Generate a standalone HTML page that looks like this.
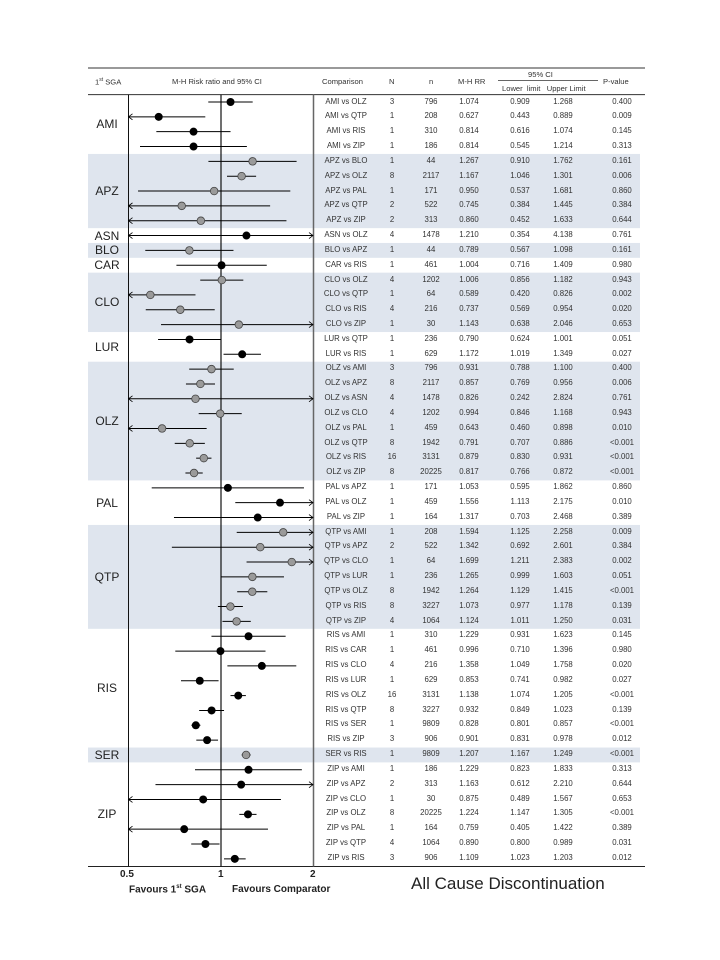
<!DOCTYPE html>
<html><head><meta charset="utf-8">
<style>
body{margin:0;background:#fff;}
#w{position:relative;width:720px;height:960px;overflow:hidden;font-family:"Liberation Sans",sans-serif;color:#333;}
svg{position:absolute;left:0;top:0;}
#rows{position:absolute;left:0;top:94.58px;width:720px;}
.r{position:relative;height:14.84px;font-size:7.8px;line-height:14.84px;}
.r span{position:absolute;top:0;text-align:center;white-space:nowrap;}
.r span:nth-child(1){left:318px;width:56px}
.r span:nth-child(2){left:382px;width:20px}
.r span:nth-child(3){left:414px;width:34px}
.r span:nth-child(4){left:452px;width:34px}
.r span:nth-child(5){left:503px;width:34px}
.r span:nth-child(6){left:546px;width:34px}
.r span:nth-child(7){left:602px;width:40px}
.g{position:absolute;left:88px;width:38px;text-align:center;font-size:12px;color:#222;line-height:14px;margin-top:-7px;}
.h{position:absolute;font-size:7.6px;color:#333;white-space:nowrap;}
.ax{position:absolute;font-size:10px;font-weight:bold;color:#222;}
</style></head><body>
<div id="w">
<svg id="s" width="720" height="960"></svg>
<div class="h" style="left:95px;top:77px">1<sup style="font-size:5px">st</sup> SGA</div>
<div class="h" style="left:172px;top:77px">M-H Risk ratio and 95% CI</div>
<div class="h" style="left:322px;top:77px">Comparison</div>
<div class="h" style="left:389px;top:77px">N</div>
<div class="h" style="left:429px;top:77px">n</div>
<div class="h" style="left:458px;top:77px">M-H RR</div>
<div class="h" style="left:528px;top:70px">95% CI</div>
<div class="h" style="left:502px;top:84px">Lower&nbsp; limit&nbsp;&nbsp; Upper Limit</div>
<div class="h" style="left:603px;top:77px">P-value</div>

<div class="g" style="top:124.3px">AMI</div>
<div class="g" style="top:191px">APZ</div>
<div class="g" style="top:235.6px">ASN</div>
<div class="g" style="top:250.4px">BLO</div>
<div class="g" style="top:265.2px">CAR</div>
<div class="g" style="top:302.3px">CLO</div>
<div class="g" style="top:346.9px">LUR</div>
<div class="g" style="top:421.1px">OLZ</div>
<div class="g" style="top:502.7px">PAL</div>
<div class="g" style="top:576.9px">QTP</div>
<div class="g" style="top:688.2px">RIS</div>
<div class="g" style="top:755px">SER</div>
<div class="g" style="top:814.3px">ZIP</div>

<div id="rows">
<div class="r"><span>AMI vs OLZ</span><span>3</span><span>796</span><span>1.074</span><span>0.909</span><span>1.268</span><span>0.400</span></div>
<div class="r"><span>AMI vs QTP</span><span>1</span><span>208</span><span>0.627</span><span>0.443</span><span>0.889</span><span>0.009</span></div>
<div class="r"><span>AMI vs RIS</span><span>1</span><span>310</span><span>0.814</span><span>0.616</span><span>1.074</span><span>0.145</span></div>
<div class="r"><span>AMI vs ZIP</span><span>1</span><span>186</span><span>0.814</span><span>0.545</span><span>1.214</span><span>0.313</span></div>
<div class="r"><span>APZ vs BLO</span><span>1</span><span>44</span><span>1.267</span><span>0.910</span><span>1.762</span><span>0.161</span></div>
<div class="r"><span>APZ vs OLZ</span><span>8</span><span>2117</span><span>1.167</span><span>1.046</span><span>1.301</span><span>0.006</span></div>
<div class="r"><span>APZ vs PAL</span><span>1</span><span>171</span><span>0.950</span><span>0.537</span><span>1.681</span><span>0.860</span></div>
<div class="r"><span>APZ vs QTP</span><span>2</span><span>522</span><span>0.745</span><span>0.384</span><span>1.445</span><span>0.384</span></div>
<div class="r"><span>APZ vs ZIP</span><span>2</span><span>313</span><span>0.860</span><span>0.452</span><span>1.633</span><span>0.644</span></div>
<div class="r"><span>ASN vs OLZ</span><span>4</span><span>1478</span><span>1.210</span><span>0.354</span><span>4.138</span><span>0.761</span></div>
<div class="r"><span>BLO vs APZ</span><span>1</span><span>44</span><span>0.789</span><span>0.567</span><span>1.098</span><span>0.161</span></div>
<div class="r"><span>CAR vs RIS</span><span>1</span><span>461</span><span>1.004</span><span>0.716</span><span>1.409</span><span>0.980</span></div>
<div class="r"><span>CLO vs OLZ</span><span>4</span><span>1202</span><span>1.006</span><span>0.856</span><span>1.182</span><span>0.943</span></div>
<div class="r"><span>CLO vs QTP</span><span>1</span><span>64</span><span>0.589</span><span>0.420</span><span>0.826</span><span>0.002</span></div>
<div class="r"><span>CLO vs RIS</span><span>4</span><span>216</span><span>0.737</span><span>0.569</span><span>0.954</span><span>0.020</span></div>
<div class="r"><span>CLO vs ZIP</span><span>1</span><span>30</span><span>1.143</span><span>0.638</span><span>2.046</span><span>0.653</span></div>
<div class="r"><span>LUR vs QTP</span><span>1</span><span>236</span><span>0.790</span><span>0.624</span><span>1.001</span><span>0.051</span></div>
<div class="r"><span>LUR vs RIS</span><span>1</span><span>629</span><span>1.172</span><span>1.019</span><span>1.349</span><span>0.027</span></div>
<div class="r"><span>OLZ vs AMI</span><span>3</span><span>796</span><span>0.931</span><span>0.788</span><span>1.100</span><span>0.400</span></div>
<div class="r"><span>OLZ vs APZ</span><span>8</span><span>2117</span><span>0.857</span><span>0.769</span><span>0.956</span><span>0.006</span></div>
<div class="r"><span>OLZ vs ASN</span><span>4</span><span>1478</span><span>0.826</span><span>0.242</span><span>2.824</span><span>0.761</span></div>
<div class="r"><span>OLZ vs CLO</span><span>4</span><span>1202</span><span>0.994</span><span>0.846</span><span>1.168</span><span>0.943</span></div>
<div class="r"><span>OLZ vs PAL</span><span>1</span><span>459</span><span>0.643</span><span>0.460</span><span>0.898</span><span>0.010</span></div>
<div class="r"><span>OLZ vs QTP</span><span>8</span><span>1942</span><span>0.791</span><span>0.707</span><span>0.886</span><span>&lt;0.001</span></div>
<div class="r"><span>OLZ vs RIS</span><span>16</span><span>3131</span><span>0.879</span><span>0.830</span><span>0.931</span><span>&lt;0.001</span></div>
<div class="r"><span>OLZ vs ZIP</span><span>8</span><span>20225</span><span>0.817</span><span>0.766</span><span>0.872</span><span>&lt;0.001</span></div>
<div class="r"><span>PAL vs APZ</span><span>1</span><span>171</span><span>1.053</span><span>0.595</span><span>1.862</span><span>0.860</span></div>
<div class="r"><span>PAL vs OLZ</span><span>1</span><span>459</span><span>1.556</span><span>1.113</span><span>2.175</span><span>0.010</span></div>
<div class="r"><span>PAL vs ZIP</span><span>1</span><span>164</span><span>1.317</span><span>0.703</span><span>2.468</span><span>0.389</span></div>
<div class="r"><span>QTP vs AMI</span><span>1</span><span>208</span><span>1.594</span><span>1.125</span><span>2.258</span><span>0.009</span></div>
<div class="r"><span>QTP vs APZ</span><span>2</span><span>522</span><span>1.342</span><span>0.692</span><span>2.601</span><span>0.384</span></div>
<div class="r"><span>QTP vs CLO</span><span>1</span><span>64</span><span>1.699</span><span>1.211</span><span>2.383</span><span>0.002</span></div>
<div class="r"><span>QTP vs LUR</span><span>1</span><span>236</span><span>1.265</span><span>0.999</span><span>1.603</span><span>0.051</span></div>
<div class="r"><span>QTP vs OLZ</span><span>8</span><span>1942</span><span>1.264</span><span>1.129</span><span>1.415</span><span>&lt;0.001</span></div>
<div class="r"><span>QTP vs RIS</span><span>8</span><span>3227</span><span>1.073</span><span>0.977</span><span>1.178</span><span>0.139</span></div>
<div class="r"><span>QTP vs ZIP</span><span>4</span><span>1064</span><span>1.124</span><span>1.011</span><span>1.250</span><span>0.031</span></div>
<div class="r"><span>RIS vs AMI</span><span>1</span><span>310</span><span>1.229</span><span>0.931</span><span>1.623</span><span>0.145</span></div>
<div class="r"><span>RIS vs CAR</span><span>1</span><span>461</span><span>0.996</span><span>0.710</span><span>1.396</span><span>0.980</span></div>
<div class="r"><span>RIS vs CLO</span><span>4</span><span>216</span><span>1.358</span><span>1.049</span><span>1.758</span><span>0.020</span></div>
<div class="r"><span>RIS vs LUR</span><span>1</span><span>629</span><span>0.853</span><span>0.741</span><span>0.982</span><span>0.027</span></div>
<div class="r"><span>RIS vs OLZ</span><span>16</span><span>3131</span><span>1.138</span><span>1.074</span><span>1.205</span><span>&lt;0.001</span></div>
<div class="r"><span>RIS vs QTP</span><span>8</span><span>3227</span><span>0.932</span><span>0.849</span><span>1.023</span><span>0.139</span></div>
<div class="r"><span>RIS vs SER</span><span>1</span><span>9809</span><span>0.828</span><span>0.801</span><span>0.857</span><span>&lt;0.001</span></div>
<div class="r"><span>RIS vs ZIP</span><span>3</span><span>906</span><span>0.901</span><span>0.831</span><span>0.978</span><span>0.012</span></div>
<div class="r"><span>SER vs RIS</span><span>1</span><span>9809</span><span>1.207</span><span>1.167</span><span>1.249</span><span>&lt;0.001</span></div>
<div class="r"><span>ZIP vs AMI</span><span>1</span><span>186</span><span>1.229</span><span>0.823</span><span>1.833</span><span>0.313</span></div>
<div class="r"><span>ZIP vs APZ</span><span>2</span><span>313</span><span>1.163</span><span>0.612</span><span>2.210</span><span>0.644</span></div>
<div class="r"><span>ZIP vs CLO</span><span>1</span><span>30</span><span>0.875</span><span>0.489</span><span>1.567</span><span>0.653</span></div>
<div class="r"><span>ZIP vs OLZ</span><span>8</span><span>20225</span><span>1.224</span><span>1.147</span><span>1.305</span><span>&lt;0.001</span></div>
<div class="r"><span>ZIP vs PAL</span><span>1</span><span>164</span><span>0.759</span><span>0.405</span><span>1.422</span><span>0.389</span></div>
<div class="r"><span>ZIP vs QTP</span><span>4</span><span>1064</span><span>0.890</span><span>0.800</span><span>0.989</span><span>0.031</span></div>
<div class="r"><span>ZIP vs RIS</span><span>3</span><span>906</span><span>1.109</span><span>1.023</span><span>1.203</span><span>0.012</span></div>
</div>

<div class="ax" style="left:120px;top:869px">0.5</div>
<div class="ax" style="left:218px;top:869px">1</div>
<div class="ax" style="left:310px;top:869px">2</div>
<div class="ax" style="left:129px;top:884px">Favours 1<sup style="font-size:6px">st</sup> SGA</div>
<div class="ax" style="left:232px;top:884px">Favours Comparator</div>
<div style="position:absolute;left:411px;top:874px;font-size:17px;color:#222;">All Cause Discontinuation</div>
</div>
<script>
(function(){
var s=document.getElementById('s'),NS='http://www.w3.org/2000/svg';
function el(t,a){var e=document.createElementNS(NS,t);for(var k in a)e.setAttribute(k,a[k]);s.appendChild(e);return e;}
var Y0=102,D=14.84;
var groups=[[0,4,0],[4,5,1],[9,1,0],[10,1,1],[11,1,0],[12,4,1],[16,2,0],[18,8,1],[26,3,0],[29,7,1],[36,8,0],[44,1,1],[45,7,0]];
var shade=[];
groups.forEach(function(g){
  for(var i=0;i<g[1];i++)shade[g[0]+i]=g[2];
  if(g[2])el('rect',{x:88,y:Y0+D*(g[0]-0.5),width:552,height:D*g[1],fill:'#dfe5ee'});
});
el('line',{x1:88,y1:68,x2:645,y2:68,stroke:'#333','stroke-width':1});
el('line',{x1:88,y1:94.6,x2:645,y2:94.6,stroke:'#333','stroke-width':1});
el('line',{x1:498,y1:80.5,x2:598,y2:80.5,stroke:'#333','stroke-width':0.8});
el('line',{x1:88,y1:866.5,x2:645,y2:866.5,stroke:'#222','stroke-width':1});
el('line',{x1:128.5,y1:94.6,x2:128.5,y2:866.5,stroke:'#111','stroke-width':1});
el('line',{x1:221,y1:94.6,x2:221,y2:866.5,stroke:'#111','stroke-width':1.2});
el('line',{x1:313.5,y1:94.6,x2:313.5,y2:866.5,stroke:'#666','stroke-width':1.5});
function X(v){return 221+Math.log(v)/Math.LN2*92.5;}
var rows=document.querySelectorAll('#rows .r');
for(var i=0;i<rows.length;i++){
  var sp=rows[i].querySelectorAll('span');
  var rr=parseFloat(sp[3].textContent),lo=parseFloat(sp[4].textContent),hi=parseFloat(sp[5].textContent);
  var y=Y0+D*i;
  var x1=Math.max(X(lo),128.5),x2=Math.min(X(hi),313);
  el('line',{x1:x1,y1:y,x2:x2,y2:y,stroke:'#000','stroke-width':1});
  if(lo<0.5)el('polyline',{points:(x1+4)+','+(y-3)+' '+x1+','+y+' '+(x1+4)+','+(y+3),fill:'none',stroke:'#000','stroke-width':0.8});
  if(hi>2)el('polyline',{points:(x2-4)+','+(y-3)+' '+x2+','+y+' '+(x2-4)+','+(y+3),fill:'none',stroke:'#000','stroke-width':0.8});
  if(shade[i])el('circle',{cx:X(rr),cy:y,r:3.8,fill:'#9a9a9a',stroke:'#444','stroke-width':0.8});
  else el('circle',{cx:X(rr),cy:y,r:4,fill:'#000'});
}
})();
</script>
</body></html>
